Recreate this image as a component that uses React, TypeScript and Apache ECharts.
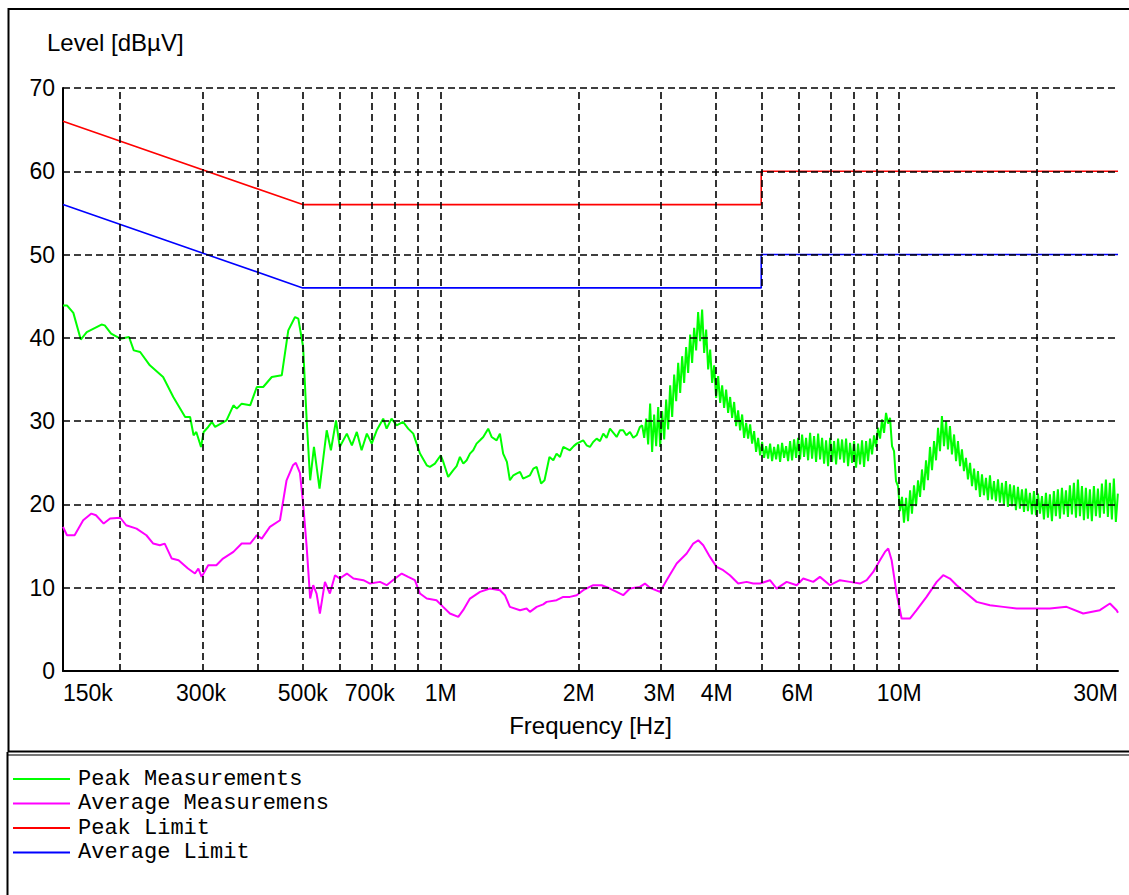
import React, { useEffect, useRef } from 'react';
import * as echarts from 'echarts';

// X-axis tick labels (frequency) and their positions in MHz
const xTickLabels = ['150k', '300k', '500k', '700k', '1M', '2M', '3M', '4M', '6M', '10M', '30M'];
const xTickMHz = [0.15, 0.3, 0.5, 0.7, 1, 2, 3, 4, 6, 10, 30];
// Vertical dashed grid lines (MHz)
const xGridMHz = [0.2, 0.3, 0.4, 0.5, 0.6, 0.7, 0.8, 0.9, 1, 2, 3, 4, 5, 6, 7, 8, 9, 10, 20, 30];
// Horizontal dashed grid lines (dBµV)
const yGrid = [10, 20, 30, 40, 50, 60, 70];

// Limits [MHz, dBµV]
const peakLimit: number[][] = [[0.15, 66], [0.5, 56], [5, 56], [5, 60], [30, 60]];
const avgLimit: number[][] = [[0.15, 56], [0.5, 46], [5, 46], [5, 50], [30, 50]];

// Peak measurements [MHz, dBµV], 150 kHz – 2.75 MHz
const peakMeasLow: number[][] = [
  [0.150, 43.9], [0.153, 43.9], [0.158, 43.0], [0.164, 39.8], [0.169, 40.7], [0.182, 41.6], [0.185, 41.5],
  [0.191, 40.5], [0.200, 39.9], [0.209, 40.1], [0.214, 38.5], [0.221, 38.3], [0.232, 36.7], [0.248, 35.3],
  [0.261, 32.9], [0.277, 30.5], [0.284, 30.5], [0.289, 28.3], [0.293, 28.7], [0.300, 26.9], [0.304, 28.7],
  [0.311, 29.3], [0.317, 29.9], [0.322, 29.3], [0.341, 30.1], [0.353, 31.9], [0.359, 31.5], [0.368, 32.1],
  [0.384, 31.9], [0.397, 34.1], [0.410, 34.1], [0.428, 35.3], [0.450, 35.5], [0.465, 40.9], [0.481, 42.5],
  [0.489, 42.3], [0.501, 38.9], [0.510, 30.1], [0.519, 22.9], [0.529, 26.9], [0.544, 21.9], [0.564, 28.9],
  [0.576, 26.5], [0.591, 30.1], [0.602, 26.9], [0.624, 28.5], [0.640, 27.1], [0.656, 28.7], [0.672, 26.5],
  [0.690, 28.5], [0.707, 27.3], [0.725, 28.9], [0.749, 30.3], [0.762, 29.1], [0.781, 30.3], [0.801, 29.5],
  [0.828, 29.9], [0.849, 29.1], [0.871, 28.5], [0.901, 26.1], [0.932, 24.7], [0.947, 24.5], [0.971, 24.9],
  [1.000, 25.9], [1.013, 25.1], [1.038, 23.3], [1.064, 24.1], [1.083, 24.6], [1.101, 25.7], [1.120, 24.9],
  [1.139, 25.3], [1.158, 26.1], [1.177, 26.5], [1.197, 27.3], [1.218, 27.7], [1.238, 28.1], [1.269, 29.1],
  [1.291, 28.1], [1.324, 27.7], [1.346, 28.5], [1.368, 26.1], [1.394, 25.1], [1.415, 22.9], [1.440, 23.5],
  [1.463, 23.7], [1.489, 23.9], [1.512, 23.1], [1.540, 23.3], [1.565, 23.5], [1.592, 24.3], [1.619, 24.5],
  [1.655, 22.5], [1.684, 22.9], [1.726, 25.7], [1.760, 25.3], [1.789, 26.1], [1.820, 25.7], [1.850, 26.9],
  [1.913, 26.5], [1.950, 27.0], [1.979, 27.3], [2.045, 27.7], [2.080, 27.1], [2.115, 26.9], [2.150, 27.5],
  [2.188, 27.9], [2.225, 27.6], [2.262, 28.5], [2.300, 28.0], [2.339, 29.1], [2.380, 28.6], [2.419, 28.1],
  [2.460, 28.9], [2.500, 28.9], [2.540, 28.3], [2.586, 28.7], [2.630, 28.0], [2.674, 28.3], [2.719, 29.3],
];

// Peak measurements [MHz, dBµV], 2.75 MHz – 30 MHz (noisy band, read point by point)
const peakMeasHigh: number[][] = [
  [2.750, 29.5], [2.778, 28.0], [2.806, 30.3], [2.834, 27.2], [2.862, 32.1], [2.891, 26.3], [2.920, 30.8],
  [2.950, 27.0], [2.980, 31.7], [3.010, 26.9], [3.040, 31.2], [3.071, 27.8], [3.102, 32.6], [3.133, 29.0],
  [3.165, 34.3], [3.197, 30.5], [3.229, 35.6], [3.262, 32.4], [3.295, 37.0], [3.328, 33.4], [3.361, 37.8],
  [3.395, 34.6], [3.429, 38.9], [3.464, 35.8], [3.499, 40.4], [3.534, 37.0], [3.570, 41.2], [3.606, 38.5],
  [3.642, 43.1], [3.679, 39.6], [3.716, 43.4], [3.754, 38.2], [3.792, 41.0], [3.830, 36.2], [3.869, 38.6],
  [3.908, 34.6], [3.947, 36.7], [3.987, 32.8], [4.027, 35.4], [4.068, 32.2], [4.109, 34.3], [4.150, 31.6],
  [4.192, 33.8], [4.234, 31.0], [4.277, 32.9], [4.320, 30.4], [4.364, 32.3], [4.408, 29.4], [4.452, 31.3],
  [4.497, 28.9], [4.543, 30.8], [4.588, 28.0], [4.635, 29.8], [4.681, 27.9], [4.729, 29.6], [4.776, 27.3],
  [4.824, 28.8], [4.873, 26.3], [4.922, 28.0], [4.972, 25.9], [5.022, 27.5], [5.073, 25.6], [5.124, 27.0],
  [5.176, 25.5], [5.228, 27.3], [5.281, 25.2], [5.334, 26.9], [5.388, 25.4], [5.442, 27.2], [5.497, 25.1],
  [5.552, 27.4], [5.608, 25.6], [5.665, 27.0], [5.722, 25.2], [5.780, 27.6], [5.838, 25.3], [5.897, 27.8],
  [5.957, 25.6], [6.017, 28.0], [6.077, 25.4], [6.139, 28.4], [6.201, 25.7], [6.263, 28.0], [6.327, 25.3],
  [6.391, 28.6], [6.455, 25.5], [6.520, 28.2], [6.586, 25.1], [6.653, 28.5], [6.720, 25.4], [6.787, 28.0],
  [6.856, 24.9], [6.925, 27.7], [6.995, 24.6], [7.066, 28.0], [7.137, 25.1], [7.209, 27.6], [7.282, 24.8],
  [7.355, 27.9], [7.430, 25.4], [7.504, 27.8], [7.580, 25.0], [7.656, 27.9], [7.734, 24.6], [7.812, 27.4],
  [7.891, 25.0], [7.970, 27.6], [8.051, 24.4], [8.132, 27.3], [8.214, 24.8], [8.296, 27.7], [8.380, 24.5],
  [8.465, 27.6], [8.550, 25.2], [8.636, 27.9], [8.723, 26.0], [8.811, 28.3], [8.900, 26.9], [8.990, 29.2],
  [9.081, 27.9], [9.172, 30.2], [9.265, 28.6], [9.358, 31.0], [9.453, 29.7], [9.548, 30.4], [9.644, 27.0],
  [9.742, 26.4], [9.840, 22.8], [9.939, 22.2], [10.04, 19.2], [10.14, 20.9], [10.24, 17.8], [10.35, 20.8],
  [10.45, 18.0], [10.56, 21.7], [10.66, 18.9], [10.77, 22.3], [10.88, 19.8], [10.99, 22.9], [11.10, 20.9],
  [11.21, 24.2], [11.32, 21.7], [11.44, 25.3], [11.55, 22.9], [11.67, 26.9], [11.79, 24.1], [11.91, 27.6],
  [12.03, 25.3], [12.15, 29.2], [12.27, 26.4], [12.39, 30.6], [12.52, 27.0], [12.65, 30.0], [12.77, 26.6],
  [12.90, 29.4], [13.03, 26.0], [13.17, 28.4], [13.30, 25.2], [13.43, 27.6], [13.57, 24.6], [13.70, 26.6],
  [13.84, 24.0], [13.98, 25.6], [14.12, 23.0], [14.27, 25.0], [14.41, 22.2], [14.56, 24.3], [14.70, 21.7],
  [14.85, 24.0], [15.00, 20.9], [15.15, 23.6], [15.30, 21.1], [15.46, 23.2], [15.61, 20.5], [15.77, 23.5],
  [15.93, 20.6], [16.09, 22.8], [16.25, 20.4], [16.42, 23.0], [16.58, 20.2], [16.75, 22.6], [16.92, 20.0],
  [17.09, 22.8], [17.26, 19.7], [17.44, 22.4], [17.61, 19.8], [17.79, 22.3], [17.97, 19.3], [18.15, 22.1],
  [18.33, 19.5], [18.52, 21.8], [18.71, 19.1], [18.89, 21.9], [19.08, 19.2], [19.28, 21.4], [19.47, 18.8],
  [19.67, 21.6], [19.87, 18.7], [20.07, 21.3], [20.27, 18.9], [20.48, 21.0], [20.68, 18.2], [20.89, 21.4],
  [21.10, 18.4], [21.31, 21.2], [21.53, 18.0], [21.74, 21.6], [21.96, 18.6], [22.18, 21.8], [22.41, 18.3],
  [22.64, 22.0], [22.86, 18.8], [23.10, 21.7], [23.33, 18.5], [23.56, 22.3], [23.80, 18.8], [24.04, 22.6],
  [24.29, 18.4], [24.53, 23.0], [24.78, 18.6], [25.03, 22.2], [25.28, 18.1], [25.53, 22.0], [25.79, 18.3],
  [26.05, 21.8], [26.31, 18.0], [26.58, 22.2], [26.85, 18.6], [27.12, 21.9], [27.39, 18.4], [27.67, 22.5],
  [27.95, 18.9], [28.23, 23.0], [28.51, 18.5], [28.80, 22.6], [29.09, 18.2], [29.38, 23.1], [29.68, 17.9],
  [29.98, 21.3],
];

// Average measurements [MHz, dBµV]
const avgMeas: number[][] = [
  [0.150, 17.3], [0.153, 16.3], [0.159, 16.3], [0.166, 18.1], [0.173, 18.9], [0.177, 18.7], [0.184, 17.7],
  [0.190, 18.3], [0.200, 18.4], [0.206, 17.5], [0.217, 17.1], [0.228, 16.3], [0.236, 15.3], [0.244, 15.1],
  [0.250, 15.3], [0.259, 13.5], [0.268, 13.3], [0.281, 12.3], [0.291, 11.7], [0.296, 12.3], [0.301, 11.3],
  [0.311, 12.7], [0.324, 12.7], [0.335, 13.5], [0.353, 14.3], [0.368, 15.3], [0.384, 15.3], [0.397, 16.3],
  [0.407, 15.9], [0.424, 17.3], [0.446, 18.1], [0.461, 22.9], [0.476, 24.7], [0.483, 25.0], [0.493, 23.8],
  [0.501, 20.1], [0.510, 14.9], [0.519, 8.7], [0.527, 10.3], [0.536, 9.3], [0.545, 6.9], [0.559, 10.7],
  [0.573, 9.3], [0.588, 11.5], [0.602, 11.1], [0.624, 11.7], [0.645, 11.1], [0.678, 10.9], [0.701, 10.5],
  [0.737, 10.7], [0.762, 10.3], [0.795, 11.1], [0.822, 11.7], [0.849, 11.3], [0.878, 10.9], [0.901, 9.3],
  [0.932, 8.7], [0.979, 8.5], [1.012, 7.7], [1.047, 6.9], [1.092, 6.5], [1.119, 7.3], [1.158, 8.7],
  [1.218, 9.5], [1.280, 9.9], [1.346, 9.7], [1.380, 9.1], [1.415, 7.7], [1.489, 7.3], [1.539, 7.5],
  [1.565, 7.1], [1.619, 7.7], [1.673, 8.0], [1.702, 8.3], [1.789, 8.5], [1.850, 8.9], [1.913, 8.9],
  [1.979, 9.1], [2.045, 9.7], [2.151, 10.3], [2.243, 10.3], [2.339, 9.9], [2.419, 9.5], [2.500, 9.1],
  [2.586, 9.9], [2.719, 10.1], [2.788, 10.5], [2.859, 10.0], [3.007, 9.5], [3.109, 10.9], [3.270, 12.9],
  [3.438, 14.1], [3.554, 15.3], [3.645, 15.7], [3.737, 15.1], [3.865, 13.7], [3.996, 12.5], [4.131, 12.1],
  [4.272, 11.5], [4.454, 10.5], [4.646, 10.7], [4.803, 10.5], [4.969, 10.5], [5.224, 10.9], [5.403, 9.9],
  [5.681, 10.7], [5.975, 10.3], [6.175, 11.1], [6.493, 10.7], [6.714, 11.3], [7.062, 10.3], [7.424, 10.9],
  [7.806, 10.7], [8.210, 10.5], [8.492, 10.9], [8.776, 11.9], [9.076, 13.3], [9.307, 14.3], [9.463, 14.7],
  [9.625, 13.3], [9.870, 9.3], [10.12, 6.3], [10.55, 6.3], [10.91, 7.3], [11.47, 8.9], [12.07, 10.7],
  [12.47, 11.5], [12.90, 11.1], [13.34, 10.3], [14.03, 9.3], [14.75, 8.3], [15.77, 7.9], [16.86, 7.7],
  [18.03, 7.5], [19.93, 7.5], [21.31, 7.5], [23.17, 7.7], [25.19, 6.9], [27.39, 7.3], [28.81, 8.1],
  [29.79, 7.3], [30.00, 7.0],
];

const toX = (mhz: number) => Math.log10(mhz * 1e6);
const toXY = (pts: number[][]) => pts.map(([f, v]) => [toX(f), v]);

const X_MIN = toX(0.15);
const X_MAX = toX(30);
const tickValues = xTickMHz.map(toX);

export default function App() {
  const ref = useRef<HTMLDivElement>(null);

  useEffect(() => {
    if (!ref.current) return;
    const chart = echarts.init(ref.current, undefined, { renderer: 'svg' });
    const gridLineStyle = { type: [7, 4] as any, color: '#000', width: 1.6 };
    const markLineData = [
      ...xGridMHz.map((f) => ({ xAxis: toX(f) })),
      ...yGrid.map((v) => ({ yAxis: v })),
    ];
    chart.setOption({
      animation: false,
      backgroundColor: '#fff',
      grid: { left: 63, top: 88, right: 11, bottom: 224, containLabel: false },
      xAxis: {
        type: 'value',
        min: X_MIN,
        max: X_MAX,
        name: 'Frequency [Hz]',
        nameLocation: 'middle',
        nameGap: 42,
        nameTextStyle: { fontFamily: 'Liberation Sans, Arial', fontSize: 24, color: '#000' },
        axisLine: { show: true, lineStyle: { color: '#000', width: 2 } },
        axisTick: { show: false, customValues: tickValues },
        splitLine: { show: false },
        axisLabel: {
          customValues: tickValues,
          fontFamily: 'Liberation Sans, Arial',
          fontSize: 23,
          color: '#000',
          margin: 10,
          alignMinLabel: 'left',
          alignMaxLabel: 'right',
          formatter: (v: number) => {
            const i = tickValues.findIndex((t) => Math.abs(t - v) < 1e-6);
            return i >= 0 ? xTickLabels[i] : '';
          },
        },
      },
      yAxis: {
        type: 'value',
        min: 0,
        max: 70,
        interval: 10,
        axisLine: { show: true, lineStyle: { color: '#000', width: 2 } },
        axisTick: { show: false },
        splitLine: { show: false },
        axisLabel: { fontFamily: 'Liberation Sans, Arial', fontSize: 23, color: '#000', margin: 8 },
      },
      legend: {
        data: ['Peak Measurements', 'Average Measuremens', 'Peak Limit', 'Average Limit'],
        orient: 'vertical',
        left: 13,
        top: 767,
        padding: 0,
        itemWidth: 57,
        itemHeight: 2,
        itemGap: 0.5,
        icon: 'rect',
        selectedMode: false,
        textStyle: { fontFamily: 'Liberation Mono, Courier New, monospace', fontSize: 22, color: '#000', lineHeight: 24, padding: [0, 0, 0, 3] },
      },
      graphic: [
        { type: 'line', shape: { x1: 8, y1: 9, x2: 1129, y2: 9 }, style: { stroke: '#000', lineWidth: 2 } },
        { type: 'line', shape: { x1: 8.5, y1: 8, x2: 8.5, y2: 752 }, style: { stroke: '#000', lineWidth: 2 } },
        { type: 'line', shape: { x1: 8, y1: 751.5, x2: 1129, y2: 751.5 }, style: { stroke: '#000', lineWidth: 2 } },
        { type: 'line', shape: { x1: 8, y1: 755, x2: 1129, y2: 755 }, style: { stroke: '#777', lineWidth: 2 } },
        { type: 'line', shape: { x1: 7.5, y1: 752, x2: 7.5, y2: 895 }, style: { stroke: '#000', lineWidth: 2 } },
        {
          type: 'text',
          left: 47,
          top: 30,
          style: { text: 'Level [dBµV]', fontFamily: 'Liberation Sans, Arial', fontSize: 24, fill: '#000' },
        },
      ],
      series: [
        {
          name: 'Peak Measurements',
          type: 'line',
          data: toXY([...peakMeasLow, ...peakMeasHigh]),
          showSymbol: false,
          silent: true,
          lineStyle: { color: '#00ff00', width: 2 },
          itemStyle: { color: '#00ff00' },
        },
        {
          name: 'Average Measuremens',
          type: 'line',
          data: toXY(avgMeas),
          showSymbol: false,
          silent: true,
          lineStyle: { color: '#ff00ff', width: 2 },
          itemStyle: { color: '#ff00ff' },
        },
        {
          name: 'Peak Limit',
          type: 'line',
          data: toXY(peakLimit),
          showSymbol: false,
          silent: true,
          lineStyle: { color: '#ff0000', width: 1.6 },
          itemStyle: { color: '#ff0000' },
        },
        {
          name: 'Average Limit',
          type: 'line',
          data: toXY(avgLimit),
          showSymbol: false,
          silent: true,
          lineStyle: { color: '#0000ff', width: 1.6 },
          itemStyle: { color: '#0000ff' },
          markLine: {
            silent: true,
            symbol: 'none',
            label: { show: false },
            lineStyle: gridLineStyle,
            z: 10,
            data: markLineData,
          },
        },
      ],
    });
    return () => chart.dispose();
  }, []);

  return (
    <div
      ref={ref}
      style={{ position: 'absolute', left: 0, top: 0, width: 1129, height: 895, background: '#fff' }}
    />
  );
}
